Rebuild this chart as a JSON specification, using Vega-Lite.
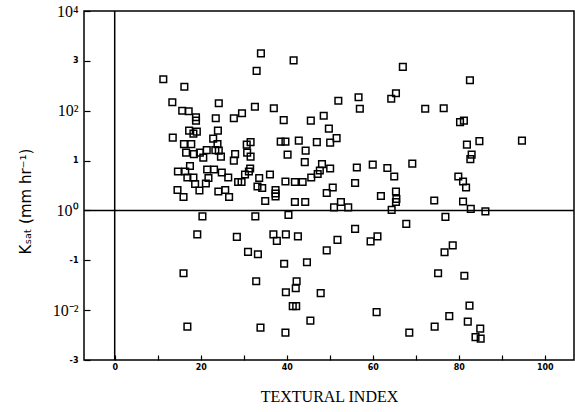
{
  "$schema": "https://vega.github.io/schema/vega-lite/v6.json",
  "width": 490,
  "height": 349,
  "autosize": {"type": "none"},
  "padding": {"left": 84, "top": 11, "right": 1, "bottom": 52},
  "background": "white",
  "config": {
    "view": {"stroke": "black", "strokeWidth": 1.5},
    "axis": {"grid": false, "domain": false}
  },
  "layer": [
    {
      "data": {
        "values": [
          {"ti": 11.3, "k": 2.63}, {"ti": 16.2, "k": 2.48}, {"ti": 13.4, "k": 2.17}, {"ti": 15.7, "k": 2.0},
          {"ti": 17.2, "k": 1.99}, {"ti": 18.9, "k": 1.87}, {"ti": 18.9, "k": 1.8}, {"ti": 23.5, "k": 1.85},
          {"ti": 24.2, "k": 2.15}, {"ti": 27.7, "k": 1.85}, {"ti": 29.6, "k": 1.95}, {"ti": 32.6, "k": 2.08},
          {"ti": 34.0, "k": 3.15}, {"ti": 33.0, "k": 2.8}, {"ti": 41.6, "k": 3.01}, {"ti": 37.0, "k": 2.05},
          {"ti": 39.3, "k": 1.81}, {"ti": 45.6, "k": 1.8}, {"ti": 48.6, "k": 1.9}, {"ti": 49.8, "k": 1.64},
          {"ti": 52.0, "k": 2.2}, {"ti": 13.5, "k": 1.46}, {"ti": 17.3, "k": 1.6}, {"ti": 18.3, "k": 1.54},
          {"ti": 19.1, "k": 1.58}, {"ti": 24.0, "k": 1.6}, {"ti": 16.1, "k": 1.33}, {"ti": 17.8, "k": 1.33},
          {"ti": 22.9, "k": 1.44}, {"ti": 23.9, "k": 1.33}, {"ti": 16.6, "k": 1.16}, {"ti": 18.4, "k": 1.13},
          {"ti": 19.8, "k": 1.16}, {"ti": 21.4, "k": 1.21}, {"ti": 20.6, "k": 1.06}, {"ti": 23.4, "k": 1.21},
          {"ti": 24.2, "k": 1.2}, {"ti": 24.7, "k": 1.08}, {"ti": 28.0, "k": 1.13}, {"ti": 27.7, "k": 1.0},
          {"ti": 30.7, "k": 1.32}, {"ti": 31.6, "k": 1.37}, {"ti": 30.8, "k": 1.16}, {"ti": 31.6, "k": 1.08},
          {"ti": 38.6, "k": 1.38}, {"ti": 39.7, "k": 1.38}, {"ti": 42.8, "k": 1.4}, {"ti": 47.0, "k": 1.37},
          {"ti": 50.1, "k": 1.36}, {"ti": 51.6, "k": 1.45}, {"ti": 40.2, "k": 1.12}, {"ti": 44.4, "k": 1.2},
          {"ti": 44.2, "k": 0.97}, {"ti": 48.2, "k": 0.93}, {"ti": 47.7, "k": 0.8}, {"ti": 50.1, "k": 0.84},
          {"ti": 47.2, "k": 0.73}, {"ti": 14.7, "k": 0.78}, {"ti": 16.4, "k": 0.78}, {"ti": 16.9, "k": 0.66},
          {"ti": 18.3, "k": 0.66}, {"ti": 17.5, "k": 0.89}, {"ti": 18.7, "k": 0.53}, {"ti": 19.7, "k": 0.4},
          {"ti": 21.5, "k": 0.82}, {"ti": 23.1, "k": 0.82}, {"ti": 21.8, "k": 0.65}, {"ti": 21.2, "k": 0.54},
          {"ti": 24.9, "k": 0.76}, {"ti": 26.4, "k": 0.66}, {"ti": 31.5, "k": 0.84}, {"ti": 31.2, "k": 0.78},
          {"ti": 30.3, "k": 0.72}, {"ti": 28.7, "k": 0.57}, {"ti": 29.5, "k": 0.57}, {"ti": 33.6, "k": 0.65},
          {"ti": 36.1, "k": 0.72}, {"ti": 33.2, "k": 0.48}, {"ti": 34.3, "k": 0.45}, {"ti": 37.4, "k": 0.41},
          {"ti": 37.4, "k": 0.34}, {"ti": 37.4, "k": 0.28}, {"ti": 39.7, "k": 0.58}, {"ti": 41.9, "k": 0.57},
          {"ti": 43.7, "k": 0.57}, {"ti": 45.7, "k": 0.66}, {"ti": 14.6, "k": 0.41}, {"ti": 16.0, "k": 0.27},
          {"ti": 24.1, "k": 0.38}, {"ti": 25.7, "k": 0.41}, {"ti": 26.6, "k": 0.27}, {"ti": 35.0, "k": 0.19},
          {"ti": 41.9, "k": 0.17}, {"ti": 44.3, "k": 0.17}, {"ti": 49.3, "k": 0.35}, {"ti": 50.7, "k": 0.46},
          {"ti": 51.0, "k": 0.06}, {"ti": 52.6, "k": 0.17}, {"ti": 54.3, "k": 0.06},
          {"ti": 67.0, "k": 2.88}, {"ti": 82.6, "k": 2.61}, {"ti": 56.7, "k": 2.27}, {"ti": 57.0, "k": 2.04},
          {"ti": 65.4, "k": 2.35}, {"ti": 64.3, "k": 2.24}, {"ti": 72.2, "k": 2.04}, {"ti": 76.5, "k": 2.05},
          {"ti": 80.3, "k": 1.77}, {"ti": 81.2, "k": 1.8}, {"ti": 81.9, "k": 1.32}, {"ti": 84.8, "k": 1.39},
          {"ti": 94.7, "k": 1.4}, {"ti": 83.0, "k": 1.12}, {"ti": 82.7, "k": 1.03}, {"ti": 56.3, "k": 0.86},
          {"ti": 60.0, "k": 0.92}, {"ti": 63.4, "k": 0.85}, {"ti": 69.2, "k": 0.94}, {"ti": 65.0, "k": 0.68},
          {"ti": 55.9, "k": 0.55}, {"ti": 79.9, "k": 0.68}, {"ti": 81.0, "k": 0.58}, {"ti": 81.7, "k": 0.46},
          {"ti": 61.9, "k": 0.29}, {"ti": 65.4, "k": 0.38}, {"ti": 65.5, "k": 0.23}, {"ti": 65.4, "k": 0.17},
          {"ti": 74.3, "k": 0.2}, {"ti": 81.0, "k": 0.18}, {"ti": 64.4, "k": 0.01}, {"ti": 82.8, "k": 0.03},
          {"ti": 86.2, "k": -0.02},
          {"ti": 76.9, "k": -0.13}, {"ti": 67.8, "k": -0.27}, {"ti": 55.9, "k": -0.37}, {"ti": 51.8, "k": -0.59},
          {"ti": 59.5, "k": -0.62}, {"ti": 61.1, "k": -0.52}, {"ti": 76.7, "k": -0.84}, {"ti": 78.6, "k": -0.7},
          {"ti": 75.2, "k": -1.26}, {"ti": 81.3, "k": -1.31}, {"ti": 82.5, "k": -1.91}, {"ti": 60.9, "k": -2.04},
          {"ti": 77.8, "k": -2.12}, {"ti": 82.1, "k": -2.23}, {"ti": 74.4, "k": -2.33}, {"ti": 85.0, "k": -2.37},
          {"ti": 68.5, "k": -2.45}, {"ti": 83.9, "k": -2.54}, {"ti": 85.1, "k": -2.57},
          {"ti": 20.4, "k": -0.12}, {"ti": 32.7, "k": -0.12}, {"ti": 40.4, "k": -0.09}, {"ti": 19.2, "k": -0.48},
          {"ti": 28.4, "k": -0.53}, {"ti": 36.9, "k": -0.48}, {"ti": 37.7, "k": -0.61}, {"ti": 39.8, "k": -0.48},
          {"ti": 42.6, "k": -0.52}, {"ti": 31.0, "k": -0.83}, {"ti": 33.3, "k": -0.88}, {"ti": 49.3, "k": -0.8},
          {"ti": 39.4, "k": -1.07}, {"ti": 44.7, "k": -1.04}, {"ti": 16.0, "k": -1.26}, {"ti": 32.9, "k": -1.42},
          {"ti": 42.3, "k": -1.42}, {"ti": 42.1, "k": -1.56}, {"ti": 39.8, "k": -1.64}, {"ti": 47.9, "k": -1.66},
          {"ti": 41.4, "k": -1.92}, {"ti": 42.2, "k": -1.92}, {"ti": 45.5, "k": -2.21}, {"ti": 16.9, "k": -2.33},
          {"ti": 33.9, "k": -2.35}, {"ti": 39.7, "k": -2.45}
        ]
      },
      "mark": {"type": "point", "shape": "square", "filled": false, "size": 44, "strokeWidth": 1.5, "color": "black", "opacity": 1},
      "encoding": {
        "x": {
          "field": "ti", "type": "quantitative",
          "scale": {"domain": [-7.14, 106.8], "nice": false, "zero": false},
          "axis": {
            "title": "TEXTURAL INDEX",
            "values": [0, 10, 20, 30, 40, 50, 60, 70, 80, 90, 100],
            "labelExpr": "datum.value % 20 == 0 ? datum.label : ''",
            "tickSize": -5, "tickColor": "black", "tickWidth": 1.2,
            "labelFont": "DejaVu Sans", "labelFontWeight": "bold", "labelFontSize": 8, "labelColor": "black",
            "labelPadding": 8,
            "titleFont": "Liberation Serif", "titleFontSize": 16, "titleFontWeight": "normal", "titleColor": "black",
            "titlePadding": 17
          }
        },
        "y": {
          "field": "k", "type": "quantitative",
          "scale": {"domain": [-3, 4], "nice": false, "zero": false},
          "axis": {
            "title": "Kₛₐₜ (mm hr⁻¹)",
            "values": [-3, -2, -1, 0, 1, 2, 3, 4],
            "labelExpr": "datum.value == 4 ? '10⁴' : datum.value == 2 ? '10²' : datum.value == 0 ? '10⁰' : datum.value == -2 ? '10⁻²' : datum.value == -1 ? '-1' : datum.value == -3 ? '-3' : datum.label",
            "tickSize": -6, "tickColor": "black", "tickWidth": 1.2,
            "labelFont": {"condition": {"test": "datum.value % 2 == 0", "value": "Liberation Serif"}, "value": "DejaVu Sans"},
            "labelFontSize": {"condition": {"test": "datum.value % 2 == 0", "value": 16}, "value": 8},
            "labelFontWeight": {"condition": {"test": "datum.value % 2 == 0", "value": "normal"}, "value": "bold"},
            "labelColor": "black",
            "labelPadding": 12,
            "titleFont": "DejaVu Sans", "titleFontSize": 15, "titleFontWeight": "normal", "titleColor": "black",
            "titleX": -59, "titleY": 190, "titleAlign": "center", "titleBaseline": "middle", "titleAngle": -90
          }
        }
      }
    },
    {
      "data": {"values": [{"ref": 0}]},
      "mark": {"type": "rule", "color": "black", "strokeWidth": 1.5},
      "encoding": {"x": {"field": "ref", "type": "quantitative"}}
    },
    {
      "data": {"values": [{"ref": 0}]},
      "mark": {"type": "rule", "color": "black", "strokeWidth": 1.5},
      "encoding": {"y": {"field": "ref", "type": "quantitative"}}
    }
  ]
}
